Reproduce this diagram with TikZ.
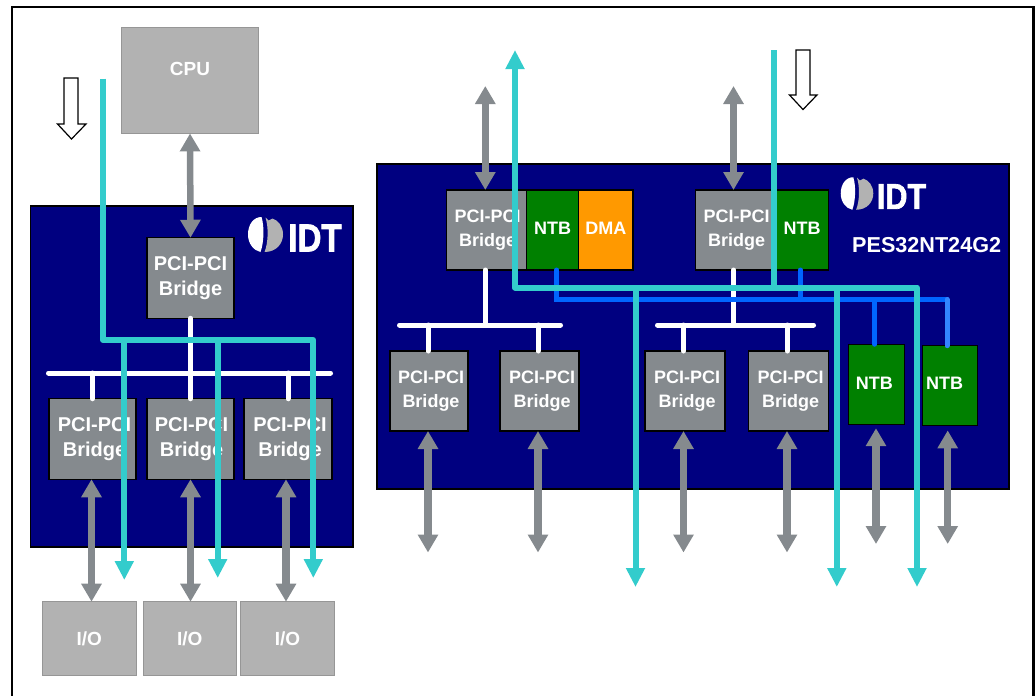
\documentclass[tikz,border=0pt]{standalone}
\usepackage{fontspec}
\setmainfont{Liberation Sans}
\newfontfamily\idtfont[FakeBold=2]{Liberation Sans Bold}
\usetikzlibrary{arrows.meta}
\usetikzlibrary{positioning}
\definecolor{chipnavy}{HTML}{000080}
\definecolor{bridgegray}{HTML}{858A8E}
\definecolor{hostgray}{HTML}{B2B2B2}
\definecolor{hostedge}{HTML}{969696}
\definecolor{flowteal}{HTML}{33CCCC}
\definecolor{ntbgreen}{HTML}{008000}
\definecolor{dmaorange}{HTML}{FF9900}
\definecolor{ntbblue}{HTML}{0066FF}
\newcommand{\idtword}[1]{\idtfont\fontsize{#1}{#1}\selectfont\scalebox{.85}[1]{IDT}}
\newcommand{\pcilabel}[2]{\kern#1\raisebox{#2}{\begin{tabular}{@{}c@{}}PCI-PCI\\Bridge\end{tabular}}}
\tikzset{
	block/.style={draw=black, line width=1.2pt, inner sep=0pt, outer sep=0pt, text=white, align=center},
	chip/.style={draw=black, line width=1.2pt, fill=chipnavy, inner sep=0pt, outer sep=0pt},
	bridge/.style={block, fill=bridgegray, minimum width=87pt, minimum height=80.5pt, font=\bfseries\fontsize{20}{25}\selectfont},
	bridgesm/.style={block, fill=bridgegray, minimum width=80pt, minimum height=80pt, font=\bfseries\fontsize{18}{23.5}\selectfont},
	ntb/.style={block, fill=ntbgreen, minimum height=80pt, font=\bfseries\fontsize{18}{22}\selectfont},
	dma/.style={block, fill=dmaorange, minimum height=80pt, font=\bfseries\fontsize{18}{22}\selectfont},
	host/.style={draw=hostedge, line width=1pt, fill=hostgray, inner sep=0pt, outer sep=0pt, text=white, font=\bfseries\fontsize{19}{22}\selectfont},
	bus/.style={draw=white, line width=5pt, line cap=round},
	link/.style={draw=bridgegray, line width=7.2pt, {Triangle[width=19.5pt,length=18pt]}-{Triangle[width=19.5pt,length=18pt]}},
	flow/.style={draw=flowteal, line width=6pt, line join=round},
	flowend/.style={flow, -{Triangle[width=18pt,length=19pt]}},
	flowboth/.style={flow, {Triangle[width=18pt,length=19pt]}-{Triangle[width=18pt,length=19pt]}},
	ntblink/.style={draw=ntbblue, line width=5pt, line cap=round},
	hollow/.style={draw=black, line width=1.2pt, fill=white, line join=miter},
	pics/idtmark/.style={code={
		\fill[white] (-4,-17.5) .. controls (-12,-17.5) and (-17.5,-10) .. (-17.5,0) .. controls (-17.5,9) and (-12,16) .. (-5,17.5) .. controls (-1.5,8) and (-1,-8) .. cycle;
		\fill[hostgray] (0,-17) -- (3,-14) -- (7,-16) .. controls (13,-14) and (17.5,-8) .. (17.5,0) .. controls (17.5,9) and (11,17.5) .. (-1,17.5) .. controls (3,8) and (3,-8) .. cycle;
	}}
}
\begin{document}
\begin{tikzpicture}[x=1pt, y=-1pt]
	\useasboundingbox (0,0) rectangle (1036,696);
	\draw[line width=2.2pt] (12,696) -- (12,7) -- (1033.5,7) -- (1033.5,696);

	\node[chip, minimum width=322.5pt, minimum height=341pt] (chipl) at (191.7,376.5) {};
	\node[chip, minimum width=632pt, minimum height=325pt] (chipr) at (693,326.5) {};

	\node[host, minimum width=136.5pt, minimum height=105.5pt] (cpu) at (190,80.7) {\raisebox{24pt}{CPU}};
	\node[bridge] (brt) at (190.5,278) {\pcilabel{0pt}{0pt}};
	\node[bridge] (brl1) at (92.5,439) {\pcilabel{4pt}{0pt}};
	\node[bridge, right=11pt of brl1] (brl2) {\pcilabel{2pt}{0pt}};
	\node[bridge, minimum width=88pt, right=10pt of brl2] (brl3) {\pcilabel{4pt}{0pt}};
	\node[host, minimum width=93.7pt, minimum height=73.6pt] (io1) at (89.2,638.5) {I/O};
	\node[host, minimum width=92.7pt, minimum height=73.6pt] (io2) at (189.7,638.5) {I/O};
	\node[host, minimum width=93.6pt, minimum height=73.6pt] (io3) at (287.5,638.5) {I/O};

	\node[bridgesm] (bru1) at (486.7,230) {\pcilabel{2pt}{4pt}};
	\node[ntb, minimum width=52pt, right=0pt of bru1] (ntbu1) {\raisebox{4pt}{NTB}};
	\node[dma, minimum width=54.3pt, right=0pt of ntbu1] (dmau) {\raisebox{4pt}{DMA}};
	\node[bridgesm] (bru2) at (735.7,230) {\pcilabel{2pt}{4pt}};
	\node[ntb, minimum width=52.6pt, right=0pt of bru2] (ntbu2) {\raisebox{4pt}{NTB}};
	\node[bridgesm, minimum width=78pt] (brd1) at (429,391) {\pcilabel{4pt}{5pt}};
	\node[bridgesm, minimum width=79pt] (brd2) at (539.5,391) {\pcilabel{5pt}{5pt}};
	\node[bridgesm] (brd3) at (685,391) {\pcilabel{4pt}{5pt}};
	\node[bridgesm] (brd4) at (788.7,391) {\pcilabel{4pt}{5pt}};
	\node[ntb, minimum width=56pt] (ntbd1) at (876.3,384.2) {\raisebox{2pt}{NTB}\kern 4pt};
	\node[ntb, minimum width=54.6pt] (ntbd2) at (950,385.7) {\raisebox{4pt}{NTB}\kern 11pt};
	\node[anchor=west, inner sep=0pt, text=white, font=\bfseries\fontsize{21.6}{24}\selectfont] (partno) at (852,245) {PES32NT24G2};

	\pic at (265.5,234.5) {idtmark};
	\node[inner sep=0pt, text=white] (idtl) at (315,238) {\idtword{39}};
	\pic[scale=.93] at (857,193.5) {idtmark};
	\node[inner sep=0pt, text=white] (idtr) at (901.5,196.5) {\idtword{36}};

	\coordinate (busla) at (48.5,373);
	\coordinate (buslb) at (330.5,373);
	\coordinate (busra) at (399.5,325);
	\coordinate (busrb) at (560.5,325);
	\coordinate (busrc) at (657.5,325);
	\coordinate (busrd) at (813.5,325);
	\draw[bus] (busla) -- (buslb);
	\draw[bus] (busra) -- (busrb);
	\draw[bus] (busrc) -- (busrd);
	\draw[bus] (brt.south) -- (brl2.north);
	\draw[bus] (brl1.north) -- (brl1.north |- busla);
	\draw[bus] (brl3.north) -- (brl3.north |- busla);
	\draw[bus] ([xshift=-1.5pt]bru1.south) -- ([xshift=-1.5pt]bru1.south |- busra);
	\draw[bus] ([xshift=-1pt]brd1.north) -- ([xshift=-1pt]brd1.north |- busra);
	\draw[bus] ([xshift=-1.5pt]brd2.north) -- ([xshift=-1.5pt]brd2.north |- busra);
	\draw[bus] ([xshift=-2pt]bru2.south) -- ([xshift=-2pt]bru2.south |- busrc);
	\draw[bus] ([xshift=-1.5pt]brd3.north) -- ([xshift=-1.5pt]brd3.north |- busrc);
	\draw[bus] ([xshift=-1.5pt]brd4.north) -- ([xshift=-1.5pt]brd4.north |- busrc);

	\coordinate (upa) at (485.3,86);
	\coordinate (upb) at (733.5,86);
	\coordinate (dna) at (428,552.5);
	\coordinate (dnb) at (538,552.5);
	\coordinate (dnc) at (683.5,552.5);
	\coordinate (dnd) at (787,552.5);
	\coordinate (dne) at (876,544);
	\coordinate (dnf) at (947.7,544);
	\draw[link, line width=6.5pt] (cpu.south) -- (brt.north);
	\draw[link] ([xshift=-1pt]brl1.south) -- ([xshift=-1pt]brl1.south |- io1.north);
	\draw[link] (brl2.south) -- (brl2.south |- io2.north);
	\draw[link] ([xshift=-2pt]brl3.south) -- ([xshift=-2pt]brl3.south |- io3.north);
	\draw[link] (upa) -- (upa |- bru1.north);
	\draw[link] (upb) -- (upb |- bru2.north);
	\draw[link] (dna |- brd1.south) -- (dna);
	\draw[link] (dnb |- brd2.south) -- (dnb);
	\draw[link] (dnc |- brd3.south) -- (dnc);
	\draw[link] (dnd |- brd4.south) -- (dnd);
	\draw[link] ([yshift=-4pt]dne |- ntbd1.south) -- (dne);
	\draw[link] ([yshift=-4.7pt]dnf |- ntbd2.south) -- (dnf);

	\coordinate (blueline) at (947,299.5);
	\draw[ntblink] ([xshift=4pt]ntbu1.south) |- (blueline);
	\draw[ntblink] ([xshift=-1.7pt]ntbu2.south) -- ([xshift=-1.7pt]ntbu2.south |- blueline);
	\draw[ntblink] ([xshift=-1.5pt]ntbd1.north) -- ([xshift=-1.5pt]ntbd1.north |- blueline);
	\draw[ntblink, draw=ntbblue!80!white] (blueline) -- (blueline |- ntbd2.north);

	\coordinate (flowla) at (103,78.6);
	\coordinate (flowlb) at (313.3,340);
	\coordinate (flowlc) at (124.3,580);
	\coordinate (flowld) at (217.7,578);
	\coordinate (flowle) at (313.3,578);
	\draw[flowend] (flowla) |- (flowlb) -- (flowle);
	\draw[flowend] (flowlc |- flowlb) -- (flowlc);
	\draw[flowend] (flowld |- flowlb) -- (flowld);

	\coordinate (flowra) at (515,50);
	\coordinate (flowrb) at (773.7,50);
	\coordinate (flowrc) at (917,287.5);
	\coordinate (flowrd) at (635.5,587);
	\coordinate (flowre) at (836.8,587);
	\coordinate (flowrf) at (917,587);
	\draw[flowboth] (flowra) |- (flowrc) -- (flowrf);
	\draw[flow] (flowrb) -- (flowrb |- flowrc);
	\draw[flowend] (flowrd |- flowrc) -- (flowrd);
	\draw[flowend] (flowre |- flowrc) -- (flowre);

	\draw[hollow] (64,78) -- (78,78) -- (78,124) -- (86,124) -- (71.5,139) -- (57.5,124) -- (64,124) -- cycle;
	\draw[hollow] (796,50) -- (810,50) -- (810,95) -- (817,95) -- (803,109.5) -- (789.5,95) -- (796,95) -- cycle;
\end{tikzpicture}
\end{document}
